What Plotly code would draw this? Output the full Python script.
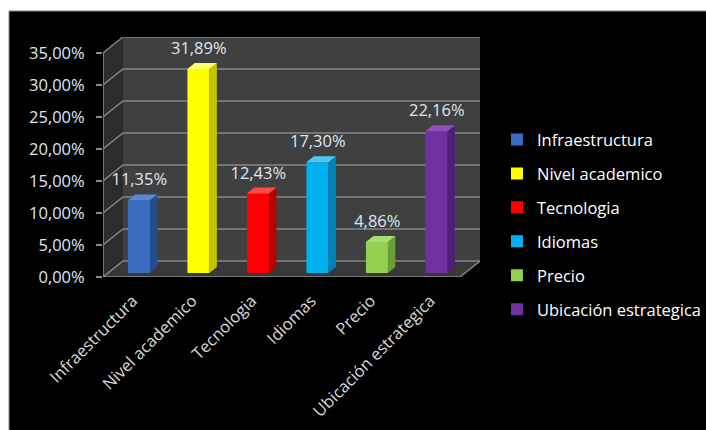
import plotly.graph_objects as go

# Survey results: share of respondents citing each factor
categories = ["Infraestructura", "Nivel academico", "Tecnologia", "Idiomas", "Precio", "Ubicación estrategica"]
values = [11.35, 31.89, 12.43, 17.30, 4.86, 22.16]
front_colors = ["#3a6cc2", "#ffff00", "#ff0000", "#00b0f0", "#92d050", "#7030a0"]
side_colors = ["#264c8c", "#c4c400", "#b80000", "#0083b8", "#6a9e36", "#4e1f74"]
top_colors = ["#5a88d4", "#ffff66", "#ff4a4a", "#4cc8f4", "#aadc74", "#8c50b8"]
y_ticks = [0, 5, 10, 15, 20, 25, 30, 35]

# pseudo-3D geometry (data units)
DX, DY = 0.336, 2.5          # wall depth offset
F0, F1 = 0.25, 0.62          # bar front / back depth fraction
HALF_W = 0.185               # half bar width
SHIFT = 0.02
Y_MAX = 35

def pct(v):
    return f"{v:.2f}".replace(".", ",") + "%"

fig = go.Figure()

FONT = "Open Sans"
TXT = "#dfe7f1"

for i, (cat, v) in enumerate(zip(categories, values)):
    c = i + SHIFT
    x0 = c - HALF_W + F0 * DX
    x1 = c + HALF_W + F0 * DX
    dd = (F1 - F0) * DX
    b0, b1 = F0 * DY, F1 * DY
    # front face
    fig.add_trace(go.Bar(
        x=[c + F0 * DX], y=[v], base=[b0], width=2 * HALF_W,
        name=cat, marker=dict(color=front_colors[i], line=dict(width=0)),
        legendgroup=cat, hoverinfo="skip",
    ))
    # right side face
    fig.add_trace(go.Scatter(
        x=[x1, x1, x1 + dd, x1 + dd, x1], y=[b0, v + b0, v + b1, b1, b0],
        mode="lines", fill="toself", fillcolor=side_colors[i], line=dict(width=0),
        showlegend=False, hoverinfo="skip", legendgroup=cat,
    ))
    # top face
    fig.add_trace(go.Scatter(
        x=[x0, x1, x1 + dd, x0 + dd, x0], y=[v + b0, v + b0, v + b1, v + b1, v + b0],
        mode="lines", fill="toself", fillcolor=top_colors[i], line=dict(width=0),
        showlegend=False, hoverinfo="skip", legendgroup=cat,
    ))

# value labels above the bars
fig.add_trace(go.Scatter(
    x=[i + 0.11 for i in range(len(values))], y=[v + 3.6 for v in values],
    mode="text", text=[pct(v) for v in values], textposition="middle center",
    textfont=dict(family=FONT, size=16.5, color=TXT),
    showlegend=False, hoverinfo="skip",
))

shapes = []
# black chart area with thin grey frame
shapes.append(dict(type="rect", xref="paper", yref="paper",
                   x0=-0.2493, x1=1.61, y0=-0.65, y1=1.1083,
                   fillcolor="#000000", line=dict(color="#8a8a8a", width=1), layer="below"))
# back wall
shapes.append(dict(type="rect", xref="x", yref="y", x0=-0.5 + DX, x1=5.5 + DX, y0=DY, y1=Y_MAX + DY,
                   fillcolor="#404040", line=dict(width=0), layer="below"))
# left wall
shapes.append(dict(type="path", xref="x", yref="y",
                   path=f"M -0.5,0 L -0.5,{Y_MAX} L {-0.5 + DX},{Y_MAX + DY} L {-0.5 + DX},{DY} Z",
                   fillcolor="#2c2c2c", line=dict(width=0), layer="below"))
# floor
shapes.append(dict(type="path", xref="x", yref="y",
                   path=f"M -0.5,0 L 5.5,0 L {5.5 + DX},{DY} L {-0.5 + DX},{DY} Z",
                   fillcolor="#383838", line=dict(width=0), layer="below"))
# gridlines on side and back walls
for t in y_ticks:
    shapes.append(dict(type="path", xref="x", yref="y",
                       path=f"M -0.5,{t} L {-0.5 + DX},{t + DY} L {5.5 + DX},{t + DY}",
                       line=dict(color="#858585", width=1.5), layer="below"))
# floor right edge
shapes.append(dict(type="line", xref="x", yref="y", x0=5.5, y0=0, x1=5.5 + DX, y1=DY,
                   line=dict(color="#858585", width=1.5), layer="below"))
# front axis lines
shapes.append(dict(type="line", xref="x", yref="y", x0=-0.5, y0=0, x1=-0.5, y1=Y_MAX,
                   line=dict(color="#8c8c8c", width=1.5), layer="above"))
shapes.append(dict(type="line", xref="x", yref="y", x0=-0.5, y0=0, x1=5.5, y1=0,
                   line=dict(color="#8c8c8c", width=1.5), layer="above"))

fig.update_layout(
    width=706, height=430,
    margin=dict(l=103, r=226, t=37, b=153, autoexpand=False),
    paper_bgcolor="#ffffff", plot_bgcolor="rgba(0,0,0,0)",
    shapes=shapes,
    barmode="overlay",
    showlegend=True,
    font=dict(family=FONT, size=16, color=TXT),
    xaxis=dict(range=[-0.5, 5.5 + DX], tickvals=list(range(len(categories))), ticktext=categories,
               tickangle=-45, ticks="", showgrid=False, zeroline=False, showline=False,
               ticklabelstandoff=10,
               tickfont=dict(family=FONT, size=16.5, color="#d9d9d9"), fixedrange=True),
    xaxis2=dict(range=[-0.5, 5.5 + DX], overlaying="x", anchor="y", side="bottom",
                tickvals=[k - 0.5 for k in range(len(categories) + 1)], showticklabels=False,
                ticks="outside", ticklen=6, tickcolor="#8c8c8c", tickwidth=1.5,
                showgrid=False, zeroline=False, showline=False),
    yaxis=dict(range=[0, Y_MAX + DY], tickvals=y_ticks, ticktext=[pct(t) for t in y_ticks],
               ticks="outside", ticklen=6, tickcolor="#8c8c8c", tickwidth=1.5,
               ticklabelstandoff=8,
               showgrid=False, zeroline=False, showline=False,
               tickfont=dict(family=FONT, size=16.5, color=TXT), fixedrange=True),
    legend=dict(x=1.045, y=0.645, xanchor="left", yanchor="top",
                bgcolor="rgba(0,0,0,0)", font=dict(family=FONT, size=16.5, color="#ffffff"),
                tracegroupgap=9.5, itemwidth=30),
)

fig.write_html("out.html")
